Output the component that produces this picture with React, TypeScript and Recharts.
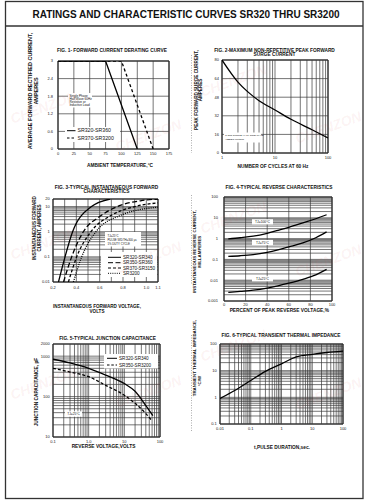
import React from 'react';
import { LineChart, Line, XAxis, YAxis, ReferenceLine, ReferenceArea } from 'recharts';

// Fig. 1 forward current derating
const fig1TempA = [0, 75, 125];
const fig1AmpA = [3, 3, 0];
const fig1TempB = [0, 100, 150];
const fig1AmpB = [3, 3, 0];
const fig1XTicks = [0, 25, 50, 75, 100, 125, 150, 175];
const fig1YTicks = [0, 0.6, 1.2, 1.8, 2.4, 3];

// Fig. 2 surge current
const fig2Cycles = [1, 2, 3, 5, 10, 20, 50, 100];
const fig2Amps = [80, 61, 53, 45, 37, 29, 20, 13];
const fig2XTicks = [1, 10, 100];
const fig2YTicks = [0, 16, 32, 48, 64, 80];

// Fig. 3 forward characteristics
const fig3VoltsA = [0.247, 0.303, 0.368, 0.53, 0.69];
const fig3AmpsA = [0.01, 0.1, 1, 10, 20];
const fig3VoltsB = [0.29, 0.36, 0.46, 0.6, 0.75, 0.95, 1.1];
const fig3AmpsB = [0.01, 0.1, 1, 4, 10, 17, 20];
const fig3VoltsC = [0.332, 0.403, 0.525, 0.7, 0.9, 1.1];
const fig3AmpsC = [0.01, 0.1, 1, 4.5, 10, 14];
const fig3VoltsD = [0.375, 0.446, 0.568, 0.78, 1.1];
const fig3AmpsD = [0.01, 0.1, 1, 4.5, 9.5];
const fig3XTicks = [0.2, 0.4, 0.6, 0.8, 1.0, 1.1];
const fig3XLabels = ['0.2', '0.4', '0.6', '0.8', '1.0', '1.1'];
const fig3YTicks = [0.01, 0.1, 1, 10, 20];

// Fig. 4 reverse characteristics
const fig4Pct = [4, 15, 27, 40, 50, 60, 73, 85, 95];
const fig4Tj100 = [0.97, 1.1, 1.3, 1.8, 2.5, 3.5, 5.7, 9, 14];
const fig4Tj75 = [0.14, 0.15, 0.17, 0.22, 0.29, 0.4, 0.62, 1.1, 2.1];
const fig4Tj25 = [0.0026, 0.0029, 0.0033, 0.0042, 0.0054, 0.0072, 0.011, 0.018, 0.033];
const fig4XTicks = [0, 20, 40, 60, 80, 100];
const fig4YTicks = [0.001, 0.01, 0.1, 1, 10, 100];

// Fig. 5 junction capacitance
const fig5Volts = [0.1, 0.3, 1, 3, 10, 20, 40, 63];
const fig5PfA = [840, 680, 500, 340, 210, 135, 60, 34];
const fig5VoltsB = [0.1, 0.3, 1, 3, 10, 20, 40, 60];
const fig5PfB = [500, 405, 310, 190, 108, 68, 38, 25];
const fig5XTicks = [0.1, 1, 10, 100];
const fig5XLabels = ['0.1', '1.0', '10', '100'];
const fig5YTicks = [10, 100, 1000, 2000];

// Fig. 6 transient thermal impedance
const fig6Time = [0.01, 0.03, 0.1, 0.3, 1, 3, 10, 30, 100];
const fig6Zth = [0.9, 1.8, 4.3, 9.4, 18, 33, 41, 48, 54];
const fig6XTicks = [0.01, 0.1, 1, 10, 100];
const fig6YTicks = [0.1, 1, 10, 100];

const FONT = '"Liberation Sans", Arial, sans-serif';

const pts = (xs: number[], ys: number[]) => xs.map((x, i) => ({ x, y: ys[i] }));

const linGrid = (lo: number, hi: number, step: number) => {
  const out: number[] = [];
  for (let v = lo; v <= hi + step / 1000; v += step) out.push(+v.toFixed(6));
  return out;
};

const logGrid = (lo: number, hi: number) => {
  const out: number[] = [];
  for (let d = Math.pow(10, Math.floor(Math.log10(lo) + 1e-9)); d <= hi * 1.0001; d *= 10) {
    for (let m = 1; m < 10; m++) {
      const v = +(m * d).toPrecision(3);
      if (v >= lo * 0.9999 && v <= hi * 1.0001) out.push(v);
    }
  }
  return out;
};

type Series = { data: { x: number; y: number }[]; dash?: string; curve?: 'linear' | 'monotone' };

type PanelProps = {
  x: number; y: number; w: number; h: number;
  xDomain: [number, number]; yDomain: [number, number];
  xLog?: boolean; yLog?: boolean;
  xTicks: number[]; yTicks: number[];
  xLabels?: string[]; yLabels?: string[];
  xGrid: number[]; yGrid: number[];
  series: Series[];
  yGap: number; xOff: number;
};

const PL = 34, PR = 4, PT = 4, PB = 12;

function Panel(p: PanelProps) {
  const fx = (v: number) => (p.xLabels ? p.xLabels[p.xTicks.indexOf(v)] : String(v));
  const fy = (v: number) => (p.yLabels ? p.yLabels[p.yTicks.indexOf(v)] : String(v));
  return (
    <div style={{ position: 'absolute', left: p.x - PL, top: p.y - PT }}>
      <LineChart width={p.w + PL + PR} height={p.h + PT + PB} margin={{ top: PT, right: PR, left: 0, bottom: 0 }}>
        <XAxis
          type="number" dataKey="x" domain={p.xDomain} scale={p.xLog ? 'log' : 'linear'}
          ticks={p.xTicks} interval={0} allowDataOverflow height={PB}
          tickSize={0} tickMargin={0} axisLine={false} tickLine={false}
          tick={(t: any) => (
            <text x={t.x} y={t.y + p.xOff} textAnchor="middle" fontSize={4} fontFamily={FONT} fill="#222">
              {fx(t.payload.value)}
            </text>
          )}
        />
        <YAxis
          type="number" dataKey="y" domain={p.yDomain} scale={p.yLog ? 'log' : 'linear'}
          ticks={p.yTicks} interval={0} allowDataOverflow width={PL}
          tickSize={0} tickMargin={0} axisLine={false} tickLine={false}
          tick={(t: any) => (
            <text x={t.x - p.yGap} y={t.y + 1.4} textAnchor="end" fontSize={4} fontFamily={FONT} fill="#222">
              {fy(t.payload.value)}
            </text>
          )}
        />
        {p.xGrid.map((v) => (
          <ReferenceLine key={'gx' + v} x={v} stroke="#3a3a3a" strokeWidth={0.7} />
        ))}
        {p.yGrid.map((v) => (
          <ReferenceLine key={'gy' + v} y={v} stroke="#3a3a3a" strokeWidth={0.7} />
        ))}
        {p.series.map((s, i) => (
          <Line
            key={i} data={s.data} dataKey="y" type={s.curve ?? 'monotone'}
            stroke="#000" strokeWidth={1.3} strokeDasharray={s.dash}
            dot={false} activeDot={false} isAnimationActive={false}
          />
        ))}
        <ReferenceArea
          x1={p.xDomain[0]} x2={p.xDomain[1]} y1={p.yDomain[0]} y2={p.yDomain[1]}
          fill="none" fillOpacity={0} stroke="#000" strokeWidth={1} ifOverflow="visible"
        />
      </LineChart>
    </div>
  );
}

type TxtProps = { x: number; y: number; s?: number; b?: boolean; a?: 'start' | 'middle' | 'end'; r?: boolean; children: React.ReactNode };
const Txt = ({ x, y, s = 4.8, b = true, a = 'middle', r = false, children }: TxtProps) => (
  <text
    x={x} y={y} fontSize={s} fontWeight={b ? 700 : 400} textAnchor={a} fontFamily={FONT} fill="#111"
    transform={r ? `rotate(-90 ${x} ${y})` : undefined}
  >
    {children}
  </text>
);

const LegendRow = ({ x, y, dash, label, len = 13, s = 4.6 }: { x: number; y: number; dash?: string; label: string; len?: number; s?: number }) => (
  <g>
    <line x1={x} x2={x + len} y1={y} y2={y} stroke="#000" strokeWidth={1} strokeDasharray={dash} />
    <Txt x={x + len + 2} y={y + 1.6} s={s} b={false} a="start">{label}</Txt>
  </g>
);

const marks = [
  [45, 112], [150, 140], [45, 248], [150, 262], [45, 388], [150, 396],
  [235, 85], [330, 132], [235, 222], [330, 265], [235, 350], [330, 398],
];

export default function App() {
  return (
    <div style={{ position: 'absolute', left: 0, top: 0, width: 382, height: 500, background: '#fff' }}>
      <Panel
        x={58} y={61} w={111} h={88} xDomain={[0, 175]} yDomain={[0, 3]}
        xTicks={fig1XTicks} yTicks={fig1YTicks}
        xGrid={fig1XTicks} yGrid={fig1YTicks} yGap={5} xOff={6}
        series={[
          { data: pts(fig1TempA, fig1AmpA), curve: 'linear' },
          { data: pts(fig1TempB, fig1AmpB), curve: 'linear', dash: '3 2.5' },
        ]}
      />
      <Panel
        x={222} y={60} w={106} h={93} xDomain={[1, 100]} yDomain={[0, 80]} xLog
        xTicks={fig2XTicks} yTicks={fig2YTicks}
        xGrid={logGrid(1, 100)} yGrid={fig2YTicks} yGap={3} xOff={6}
        series={[{ data: pts(fig2Cycles, fig2Amps) }]}
      />
      <Panel
        x={53} y={199} w={105} h={83} xDomain={[0.2, 1.1]} yDomain={[0.01, 20]} yLog
        xTicks={fig3XTicks} xLabels={fig3XLabels} yTicks={fig3YTicks}
        xGrid={linGrid(0.2, 1.1, 0.1)} yGrid={logGrid(0.01, 20)} yGap={3.3} xOff={7}
        series={[
          { data: pts(fig3VoltsA, fig3AmpsA) },
          { data: pts(fig3VoltsB, fig3AmpsB), dash: '5 2.5' },
          { data: pts(fig3VoltsC, fig3AmpsC), dash: '3 2' },
          { data: pts(fig3VoltsD, fig3AmpsD), dash: '1 1.2' },
        ]}
      />
      <Panel
        x={224} y={197} w={108} h={104} xDomain={[0, 100]} yDomain={[0.001, 100]} yLog
        xTicks={fig4XTicks} yTicks={fig4YTicks}
        xGrid={fig4XTicks} yGrid={logGrid(0.001, 100)} yGap={6} xOff={5}
        series={[
          { data: pts(fig4Pct, fig4Tj100) },
          { data: pts(fig4Pct, fig4Tj75) },
          { data: pts(fig4Pct, fig4Tj25) },
        ]}
      />
      <Panel
        x={53} y={344} w={107} h={93} xDomain={[0.1, 100]} yDomain={[10, 2000]} xLog yLog
        xTicks={fig5XTicks} xLabels={fig5XLabels} yTicks={fig5YTicks}
        xGrid={logGrid(0.1, 100)} yGrid={logGrid(10, 2000)} yGap={3.3} xOff={6}
        series={[
          { data: pts(fig5Volts, fig5PfA) },
          { data: pts(fig5VoltsB, fig5PfB), dash: '3 2' },
        ]}
      />
      <Panel
        x={220} y={344} w={123} h={80} xDomain={[0.01, 100]} yDomain={[0.1, 100]} xLog yLog
        xTicks={fig6XTicks} yTicks={fig6YTicks}
        xGrid={logGrid(0.01, 100)} yGrid={logGrid(0.1, 100)} yGap={3.3} xOff={5.5}
        series={[{ data: pts(fig6Time, fig6Zth) }]}
      />

      <svg width={382} height={500} style={{ position: 'absolute', left: 0, top: 0, pointerEvents: 'none' }}>
        <rect x={5.5} y={1.5} width={357.5} height={497} fill="none" stroke="#333" strokeWidth={1.3} />
        <line x1={5.5} x2={363} y1={26} y2={26} stroke="#333" strokeWidth={1.3} />
        <Txt x={186} y={18} s={10}>RATINGS AND CHARACTERISTIC CURVES SR320 THRU SR3200</Txt>
        {[[55, 153], [195, 285], [335, 432]].map(([a, b]) => (
          <line key={a} x1={191.5} x2={191.5} y1={a} y2={b} stroke="#777" strokeWidth={0.6} strokeDasharray="1 1.5" />
        ))}

        {/* Fig. 1 */}
        <Txt x={112} y={51.7}>FIG. 1- FORWARD CURRENT DERATING CURVE</Txt>
        <Txt x={32} y={91} s={5.5} r>AVERAGE FORWARD RECTIFIED CURRENT,</Txt>
        <Txt x={37.5} y={91} s={5.5} r>AMPERES</Txt>
        <Txt x={120} y={167.3}>AMBIENT TEMPERATURE,°C</Txt>
        <rect x={68} y={93} width={24} height={14.5} fill="#fff" />
        <Txt x={69.5} y={96.5} s={3.1} b={false} a="start">Single Phase</Txt>
        <Txt x={69.5} y={99.8} s={3.1} b={false} a="start">Half Wave 60Hz</Txt>
        <Txt x={69.5} y={103.1} s={3.1} b={false} a="start">Resistive or</Txt>
        <Txt x={69.5} y={106.4} s={3.1} b={false} a="start">Inductive Load</Txt>
        <rect x={65} y={127} width={55} height={15} fill="#fff" />
        <LegendRow x={67} y={130.7} len={8.5} s={5.2} label="SR320-SR360" />
        <LegendRow x={67} y={138} len={8.5} s={5.2} dash="2.5 2" label="SR370-SR3200" />

        {/* Fig. 2 */}
        <Txt x={274.5} y={51.7}>FIG. 2-MAXIMUM NON-REPETITIVE PEAK FORWARD</Txt>
        <Txt x={274.5} y={55.9}>SURGE CURRENT</Txt>
        <Txt x={197.5} y={90} s={4.6} r>PEAK FORWARD SURGE CURRENT,</Txt>
        <Txt x={202} y={90} s={4.6} r>AMPERES</Txt>
        <Txt x={273} y={167.7}>NUMBER OF CYCLES AT 60 Hz</Txt>
        <rect x={224} y={132.5} width={37} height={10} fill="#fff" />
        <Txt x={225.3} y={136.3} s={2.5} b={false} a="start">8.3ms SINGLE HALF SINE-WAVE</Txt>
        <Txt x={225.3} y={140} s={2.5} b={false} a="start">(JEDEC Method)</Txt>

        {/* Fig. 3 */}
        <Txt x={106.5} y={189}>FIG. 3-TYPICAL INSTANTANEOUS FORWARD</Txt>
        <Txt x={106.5} y={193.2}>CHARACTERISTICS</Txt>
        <Txt x={35.5} y={228} s={4.6} r>INSTANTANEOUS FORWARD</Txt>
        <Txt x={40.5} y={228} s={4.6} r>CURRENT, AMPERES</Txt>
        <Txt x={97} y={308.3} s={4.6}>INSTANTANEOUS FORWARD VOLTAGE,</Txt>
        <Txt x={97} y={312.8} s={4.6}>VOLTS</Txt>
        <rect x={105} y={232} width={36} height={14.5} fill="#fff" />
        <Txt x={107.5} y={237} s={2.8} b={false} a="start">TJ=25°C</Txt>
        <Txt x={107.5} y={241} s={2.8} b={false} a="start">PULSE WIDTH=300 µs</Txt>
        <Txt x={107.5} y={245} s={2.8} b={false} a="start">1% DUTY CYCLE</Txt>
        <rect x={101} y={252} width={56} height={25} fill="#fff" />
        <LegendRow x={108} y={257.3} label="SR320-SR340" />
        <LegendRow x={108} y={262.7} dash="5 2.5" label="SR350-SR360" />
        <LegendRow x={108} y={268} dash="3 2" label="SR370-SR3150" />
        <LegendRow x={108} y={273.3} dash="1 1.2" label="SR3200" />

        {/* Fig. 4 */}
        <Txt x={279} y={189}>FIG. 4-TYPICAL REVERSE CHARACTERISTICS</Txt>
        <Txt x={196.3} y={251.7} s={4.4} r>INSTANTANEOUS REVERSE CURRENT,</Txt>
        <Txt x={200.8} y={251.7} s={4.4} r>MILLAMPERES</Txt>
        <Txt x={279.3} y={311.7}>PERCENT OF PEAK REVERSE VOLTAGE,%</Txt>
        {[[221.8, 'TJ=100°C'], [242.5, 'TJ=75°C'], [278.8, 'TJ=25°C']].map(([cy, t]) => (
          <g key={t as string}>
            <rect x={252} y={(cy as number) - 2.6} width={21} height={5.2} fill="#fff" />
            <Txt x={262.5} y={(cy as number) + 1.2} s={3.3} b={false}>{t}</Txt>
          </g>
        ))}

        {/* Fig. 5 */}
        <Txt x={107.5} y={340}>FIG. 5-TYPICAL JUNCTION CAPACITANCE</Txt>
        <Txt x={38} y={392} s={4.8} r>JUNCTION CAPACITANCE, pF</Txt>
        <Txt x={103.5} y={447.5}>REVERSE VOLTAGE,VOLTS</Txt>
        <rect x={104} y={354} width={54} height={14.5} fill="#fff" />
        <LegendRow x={107} y={358.3} len={10} label="SR320-SR340" />
        <LegendRow x={107} y={365} len={10} dash="2.5 1.8" label="SR350-SR3200" />
        <rect x={65} y={411.3} width={17} height={5.4} fill="#fff" />
        <Txt x={73.5} y={415.2} s={3.2} b={false}>TJ=25°C</Txt>

        {/* Fig. 6 */}
        <Txt x={281} y={337.3}>FIG. 6-TYPICAL TRANSIENT THERMAL IMPEDANCE</Txt>
        <Txt x={196} y={358} s={4.4} r>TRANSIENT THERMAL IMPEDANCE,</Txt>
        <Txt x={200.5} y={381} s={4.4} r>°C/W</Txt>
        <Txt x={282} y={449}>t,PULSE DURATION,sec.</Txt>

        {marks.map(([mx, my], i) => (
          <text
            key={i} x={mx} y={my} fontSize={14} fontWeight={700} fontStyle="italic" fontFamily={FONT}
            textAnchor="middle" fill="#d05050" fillOpacity={0.08} transform={`rotate(-20 ${mx} ${my})`}
          >
            CHENZON
          </text>
        ))}
      </svg>
    </div>
  );
}
